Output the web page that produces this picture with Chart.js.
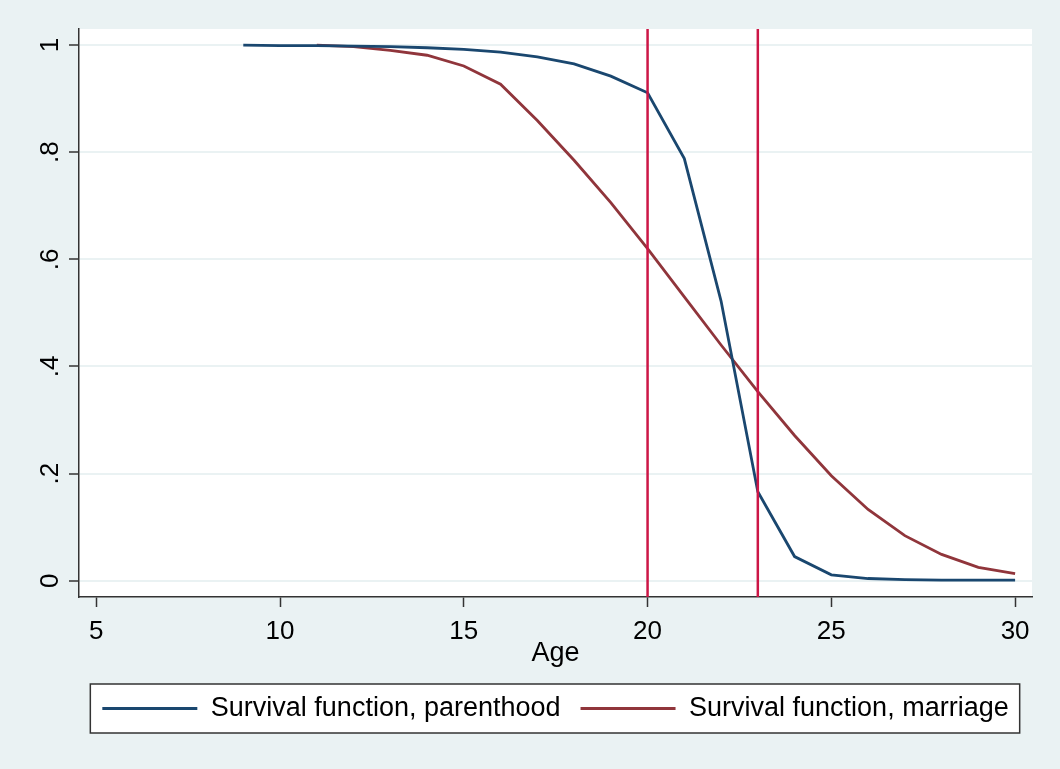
<!DOCTYPE html>
<html>
<head>
<meta charset="utf-8">
<script src="https://cdn.jsdelivr.net/npm/chart.js@4"></script>
<style>
  html, body { margin: 0; padding: 0; background: #EAF2F3; }
  #wrap { width: 1060px; height: 769px; }
</style>
</head>
<body>
<div id="wrap"><canvas id="chart" width="1060" height="769"></canvas></div>
<script>
// data
var parenthoodAge = [9, 10, 11, 12, 13, 14, 15, 16, 17, 18, 19, 20, 21, 22, 23, 24, 25, 26, 27, 28, 29, 30];
var parenthood = [1.0, 0.999, 0.999, 0.998, 0.997, 0.995, 0.992, 0.987, 0.978, 0.965, 0.942, 0.911, 0.788, 0.522, 0.166, 0.045, 0.011, 0.004, 0.002, 0.001, 0.001, 0.001];
var marriageAge = [11, 12, 13, 14, 15, 16, 17, 18, 19, 20, 21, 22, 23, 24, 25, 26, 27, 28, 29, 30];
var marriage = [1.0, 0.997, 0.99, 0.981, 0.961, 0.927, 0.859, 0.785, 0.706, 0.62, 0.53, 0.44, 0.353, 0.271, 0.196, 0.133, 0.084, 0.049, 0.025, 0.013];
var markerAges = [20, 23];
var xTickValues = [5, 10, 15, 20, 25, 30];
var yTickValues = [0, 0.2, 0.4, 0.6, 0.8, 1];
var yTickLabels = ['0', '.2', '.4', '.6', '.8', '1'];

var BG = '#EAF2F3';
var FONT = "'Liberation Sans', Arial, sans-serif";

function toPoints(xs, ys) {
    return xs.map(function (x, i) { return { x: x, y: ys[i] }; });
}

// page colour, white plot region and the outlined legend box
var backgroundPlugin = {
    id: 'background',
    beforeDraw: function (chart) {
        var ctx = chart.ctx, a = chart.chartArea;
        ctx.save();
        ctx.fillStyle = BG;
        ctx.fillRect(0, 0, chart.width, chart.height);
        ctx.fillStyle = '#ffffff';
        ctx.fillRect(a.left, a.top, a.right - a.left, a.bottom - a.top);

        var lg = chart.legend;
        if (lg && lg.legendHitBoxes && lg.legendHitBoxes.length) {
            var hb = lg.legendHitBoxes;
            var first = hb[0], last = hb[hb.length - 1];
            var cy = first.top + first.height / 2;
            var left = first.left - 12, right = last.left + last.width + 11;
            ctx.fillStyle = '#ffffff';
            ctx.fillRect(left, cy - 24.5, right - left, 49);
            ctx.strokeStyle = '#333333';
            ctx.lineWidth = 1.5;
            ctx.strokeRect(left, cy - 24.5, right - left, 49);
        }
        ctx.restore();
    }
};

// the two red reference lines
var xlinePlugin = {
    id: 'xlines',
    afterDatasetsDraw: function (chart) {
        var ctx = chart.ctx, a = chart.chartArea, sx = chart.scales.x;
        ctx.save();
        ctx.strokeStyle = '#CC1646';
        ctx.lineWidth = 2.5;
        markerAges.forEach(function (v) {
            var px = sx.getPixelForValue(v);
            ctx.beginPath();
            ctx.moveTo(px, a.top);
            ctx.lineTo(px, a.bottom);
            ctx.stroke();
        });
        ctx.restore();
    }
};

new Chart(document.getElementById('chart'), {
    type: 'line',
    data: {
        datasets: [{
            label: 'Survival function, parenthood',
            data: toPoints(parenthoodAge, parenthood),
            borderColor: '#1A476F',
            backgroundColor: '#1A476F',
            borderWidth: 2.8,
            pointRadius: 0,
            tension: 0,
            fill: false
        }, {
            label: 'Survival function, marriage',
            data: toPoints(marriageAge, marriage),
            borderColor: '#90353B',
            backgroundColor: '#90353B',
            borderWidth: 2.8,
            pointRadius: 0,
            tension: 0,
            fill: false
        }]
    },
    options: {
        responsive: false,
        animation: false,
        events: [],
        layout: { padding: { left: 0, right: 28, top: 29, bottom: 45 } },
        scales: {
            x: {
                type: 'linear',
                min: 4.53,
                max: 30.46,
                afterFit: function (s) { s.height = 78; },
                afterBuildTicks: function (s) {
                    s.ticks = xTickValues.map(function (v) { return { value: v }; });
                },
                border: { display: true, color: '#333333', width: 1.5 },
                grid: {
                    drawOnChartArea: false,
                    drawTicks: true,
                    tickLength: 10,
                    tickColor: '#333333',
                    tickWidth: 1.5
                },
                ticks: {
                    color: '#000000',
                    padding: 9,
                    maxRotation: 0,
                    font: { family: FONT, size: 26 }
                },
                title: {
                    display: true,
                    text: 'Age',
                    color: '#000000',
                    padding: 5,
                    font: { family: FONT, size: 27 }
                }
            },
            y: {
                type: 'linear',
                min: -0.0305,
                max: 1.03,
                afterFit: function (s) { s.width = 79; },
                afterBuildTicks: function (s) {
                    s.ticks = yTickValues.map(function (v) { return { value: v }; });
                },
                border: { display: true, color: '#333333', width: 1.5 },
                grid: {
                    color: BG,
                    lineWidth: 2,
                    drawTicks: true,
                    tickLength: 10,
                    tickColor: '#333333',
                    tickWidth: 1.5
                },
                ticks: {
                    color: '#000000',
                    padding: 7,
                    minRotation: 90,
                    maxRotation: 90,
                    crossAlign: 'center',
                    font: { family: FONT, size: 26 },
                    callback: function (value, index) { return yTickLabels[index]; }
                }
            }
        },
        plugins: {
            legend: {
                display: true,
                position: 'bottom',
                fullSize: false,
                maxHeight: 49,
                labels: {
                    usePointStyle: true,
                    pointStyle: 'line',
                    pointStyleWidth: 95,
                    boxHeight: 27,
                    padding: 20,
                    color: '#000000',
                    font: { family: FONT, size: 27 }
                }
            },
            tooltip: { enabled: false }
        }
    },
    plugins: [backgroundPlugin, xlinePlugin]
});
</script>
</body>
</html>
